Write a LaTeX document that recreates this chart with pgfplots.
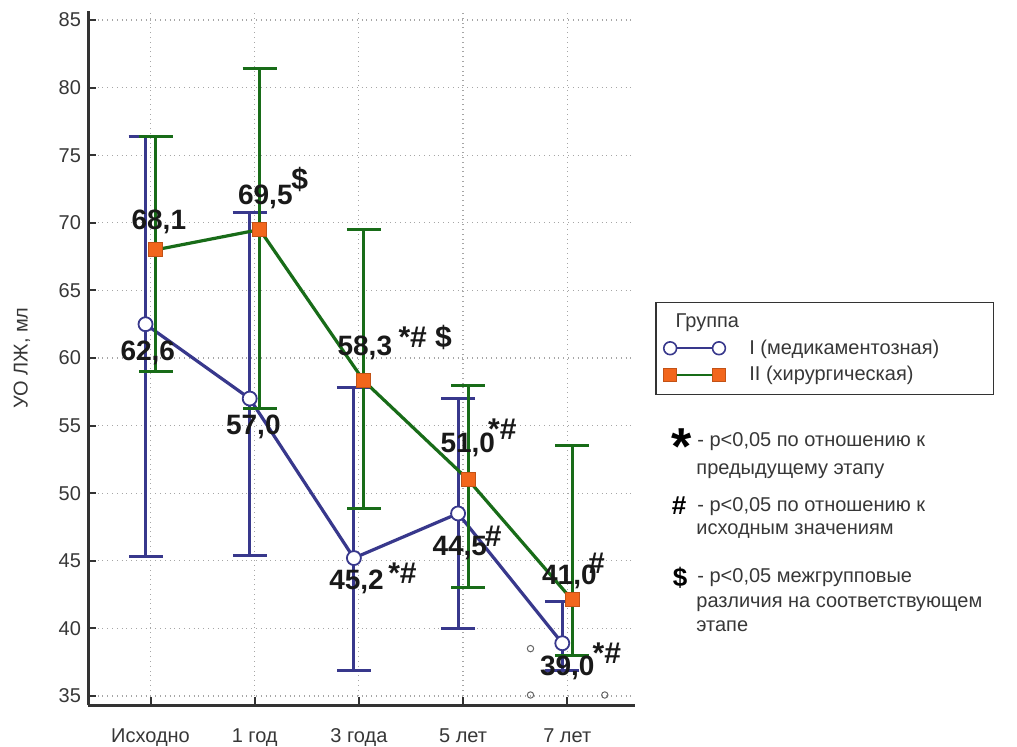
\documentclass[border=0pt]{standalone}
\usepackage{fontspec}
\setmainfont{Liberation Sans}
\usepackage{pgfplots}
\usepackage{pgfplotstable}
\pgfplotsset{compat=1.18}
\definecolor{gblue}{RGB}{56,56,140}
\definecolor{ggreen}{RGB}{24,108,24}
\definecolor{gorange}{RGB}{242,102,28}
\definecolor{gaxis}{RGB}{51,51,51}
\definecolor{gtext}{RGB}{55,55,55}

\pgfplotstableread{
x y ep em
-0.048 62.5 13.9 17.2
0.952 57.0 13.8 11.6
1.952 45.2 12.6 8.3
2.952 48.5 8.5 8.5
3.952 38.9 3.1 2.0
}\groupI

\pgfplotstableread{
x y ep em
0.048 68.0 8.4 9.0
1.048 69.5 11.9 13.2
2.048 58.3 11.2 9.4
3.048 51.0 7.0 8.0
4.048 42.1 11.4 4.1
}\groupII

\pgfplotstableread{
x y
3.647 38.5
3.647 35.07
4.36 35.07
}\outl

\begin{document}
\begin{tikzpicture}[
  lbl/.style={font=\bfseries\fontsize{14}{14}\selectfont, inner sep=0pt, text=black!90},
  sym/.style={font=\bfseries\fontsize{15}{15}\selectfont, inner sep=0pt, text=black!90}]
\useasboundingbox (0,0) rectangle (508.5pt,373pt);
\begin{axis}[
  at={(44pt,20.5pt)}, anchor=south west,
  scale only axis, width=273.5pt, height=347pt,
  xmin=-0.60, xmax=4.65, ymin=34.33, ymax=85.67,
  axis x line*=bottom, axis y line*=left,
  axis line style={gaxis, line width=1.5pt},
  xtick={0,1,2,3,4}, xticklabels={Исходно,1 год,3 года,5 лет,7 лет},
  ytick={35,40,...,85},
  tick align=inside, major tick length=4pt,
  tick style={gaxis, line width=1pt},
  grid=major, grid style={gray!70, dotted, line width=0.6pt},
  ticklabel style={font=\fontsize{10}{12}\selectfont, text=gtext},
  /pgf/number format/assume math mode=true,
  xticklabel style={text height=7.5pt, text depth=2pt, yshift=-7.5pt},
  ylabel={УО ЛЖ, мл},
  ylabel style={at={(axis description cs:-0.1207,0.5)}, anchor=center, font=\fontsize{10}{12}\selectfont, text=gtext},
  legend image code/.code={\draw[#1] plot coordinates {(0pt,0pt) (24.4pt,0pt)};},
  legend cell align=left,
  legend style={at={(1.0366,0.5807)}, anchor=north west, draw=gaxis, line width=0.75pt,
    font=\fontsize{10}{12}\selectfont, text=gtext, inner xsep=4pt, inner ysep=3.5pt, row sep=0.5pt,
    /tikz/every odd column/.append style={column sep=10pt}},
  clip=false,
]
\addlegendimage{empty legend}
\addlegendentry{\hspace*{-39pt}Группа}
\addlegendimage{gblue, line width=0.8pt, mark=*, mark size=3.2pt, mark options={fill=white, draw=gblue, line width=0.8pt}}
\addlegendentry{\makebox[116pt][l]{I (медикаментозная)}}
\addlegendimage{ggreen, line width=0.8pt, mark=square*, mark size=3.2pt, mark options={fill=gorange, draw=gorange!80!black, line width=0.5pt}}
\addlegendentry{\makebox[116pt][l]{II (хирургическая)}}

\addplot[gblue, line width=1.6pt, mark=*, mark size=3.5pt,
  mark options={fill=white, draw=gblue, line width=0.9pt},
  error bars/.cd, y dir=both, y explicit,
  error bar style={gblue, line width=1.5pt},
  error mark options={rotate=90, gblue, line width=1.5pt, mark size=8.5pt}]
  table[x=x, y=y, y error plus=ep, y error minus=em] {\groupI};

\addplot[ggreen, line width=1.6pt, mark=square*, mark size=3.5pt,
  mark options={fill=gorange, draw=gorange!80!black, line width=0.5pt},
  error bars/.cd, y dir=both, y explicit,
  error bar style={ggreen, line width=1.5pt},
  error mark options={rotate=90, ggreen, line width=1.5pt, mark size=8.5pt}]
  table[x=x, y=y, y error plus=ep, y error minus=em] {\groupII};

\addplot[only marks, mark=o, mark size=1.6pt, mark options={draw=black!60, line width=0.5pt}]
  table[x=x, y=y] {\outl};

\node[lbl] at (axis cs:0.080,70.06) {68,1};
\node[lbl] at (axis cs:-0.026,60.35) {62,6};
\node[lbl] at (axis cs:1.102,71.93) {69,5};
\node[sym] at (axis cs:1.433,73.17) {\$};
\node[lbl] at (axis cs:0.987,54.92) {57,0};
\node[lbl] at (axis cs:2.057,60.72) {58,3};
\node[sym] at (axis cs:2.637,61.50) {*\# \$};
\node[lbl] at (axis cs:1.977,43.45) {45,2};
\node[sym] at (axis cs:2.418,44.10) {*\#};
\node[lbl] at (axis cs:3.045,53.56) {51,0};
\node[sym] at (axis cs:3.376,54.70) {*\#};
\node[lbl] at (axis cs:2.968,45.92) {44,5};
\node[sym] at (axis cs:3.288,46.78) {\#};
\node[lbl] at (axis cs:4.020,43.82) {41,0};
\node[sym] at (axis cs:4.280,44.84) {\#};
\node[lbl] at (axis cs:4.000,37.05) {39,0};
\node[sym] at (axis cs:4.380,38.20) {*\#};
\end{axis}

\begin{scope}[every node/.style={anchor=base west, inner sep=0pt, text=gtext, font=\fontsize{10}{12}\selectfont}]
\node[anchor=base, font=\bfseries\fontsize{26}{26}\selectfont, text=black] at (341pt,141pt) {*};
\node at (348.5pt,150pt) {- р<0,05 по отношению к};
\node at (348pt,135.85pt) {предыдущему этапу};
\node[anchor=base, font=\bfseries\fontsize{13}{13}\selectfont, text=black] at (339.5pt,115.6pt) {\#};
\node at (348.5pt,117.5pt) {- р<0,05 по отношению к};
\node at (348pt,105.85pt) {исходным значениям};
\node[anchor=base, font=\bfseries\fontsize{13}{13}\selectfont, text=black] at (340pt,79.75pt) {\$};
\node at (348.5pt,81.65pt) {- р<0,05 межгрупповые};
\node at (348pt,69.15pt) {различия на соответствующем};
\node at (348pt,57.5pt) {этапе};
\end{scope}
\end{tikzpicture}
\end{document}
